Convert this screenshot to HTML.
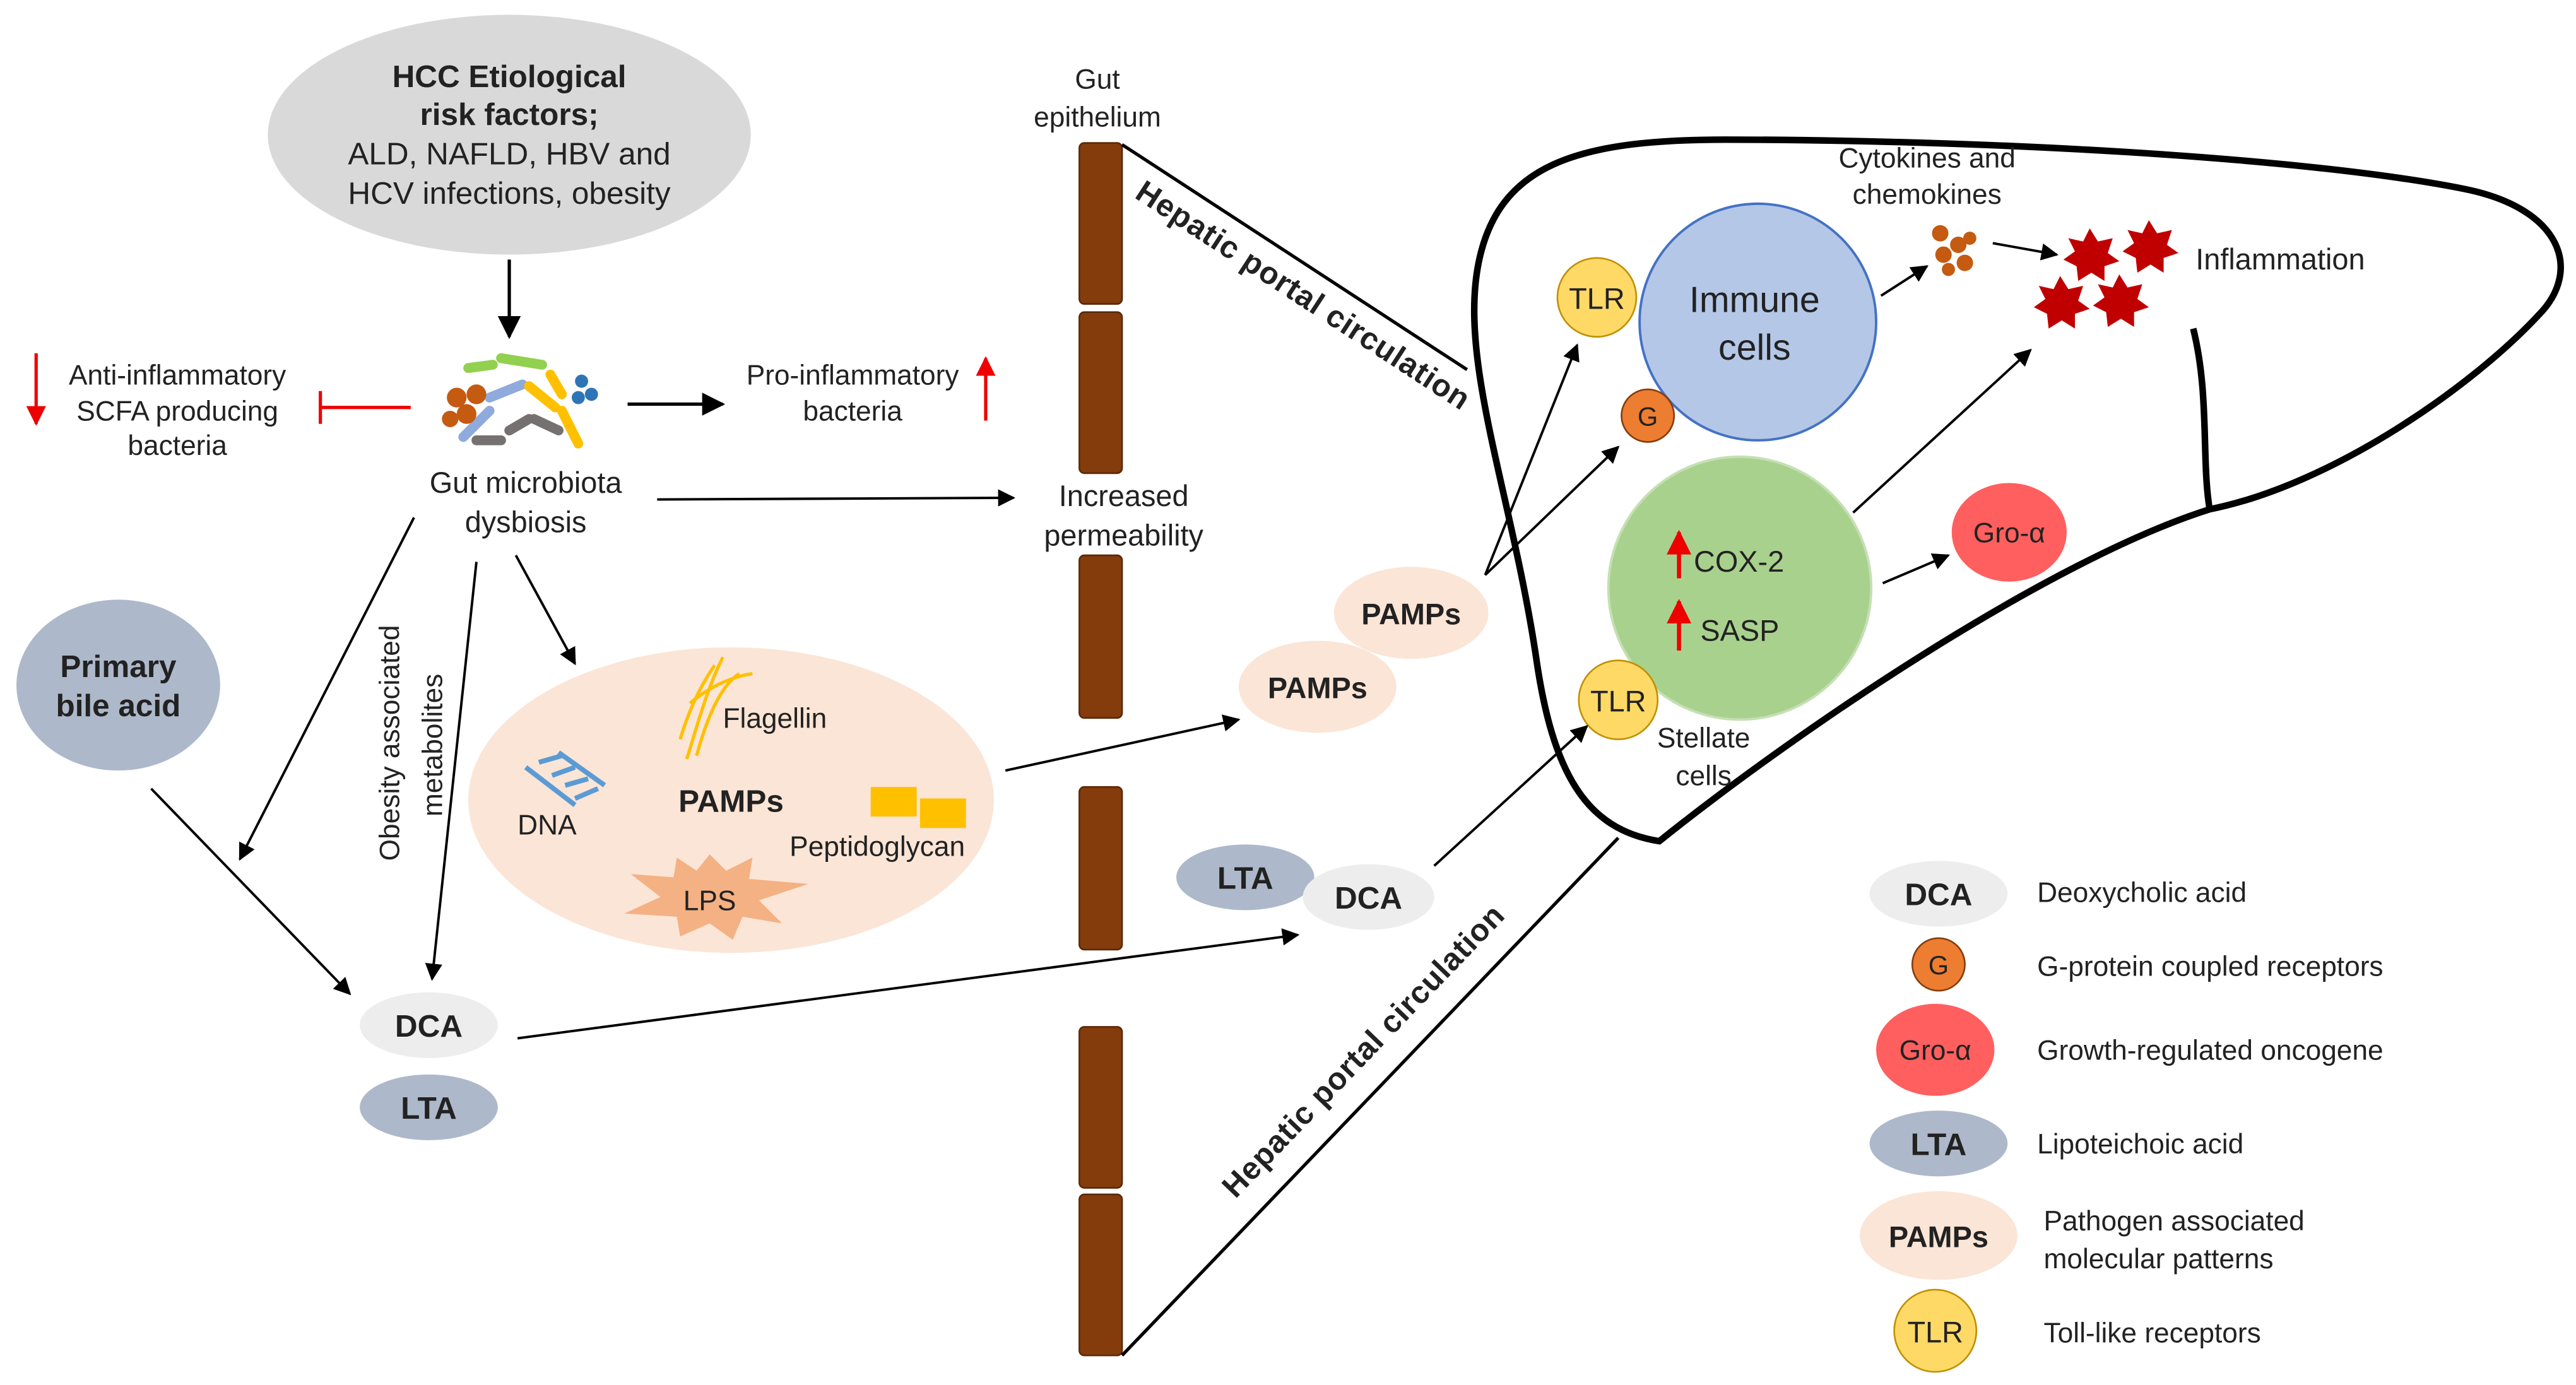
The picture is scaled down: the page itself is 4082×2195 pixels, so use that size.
<!DOCTYPE html>
<html><head><meta charset="utf-8"><style>
html,body{margin:0;padding:0;background:#fff;}
svg{display:block;}
text{font-family:"Liberation Sans",Arial,sans-serif;fill:#222;}
</style></head><body>
<svg width="4082" height="2195" viewBox="0 0 1568 843" preserveAspectRatio="none" xmlns="http://www.w3.org/2000/svg">
<defs>
<marker id="a" viewBox="0 0 10 10" refX="9" refY="5" markerWidth="7" markerHeight="7" orient="auto"><path d="M0,0 L10,5 L0,10 z" fill="#000"/></marker>
<marker id="r" viewBox="0 0 10 10" refX="9" refY="5" markerWidth="6" markerHeight="6" orient="auto"><path d="M0,0 L10,5 L0,10 z" fill="#e00"/></marker>
</defs>
<rect width="1568" height="843" fill="#fff"/>

<ellipse cx="310" cy="82" rx="147" ry="73" fill="#d9d9d9"/>
<g font-size="19" text-anchor="middle">
<text x="310" y="53" font-weight="bold">HCC Etiological</text>
<text x="310" y="76" font-weight="bold">risk factors;</text>
<text x="310" y="100">ALD, NAFLD, HBV and</text>
<text x="310" y="124">HCV infections, obesity</text>
</g>
<line x1="310" y1="158" x2="310" y2="205" stroke="#000" stroke-width="2" marker-end="url(#a)"/>

<g stroke-linecap="round" stroke-width="6">
<line x1="285" y1="224" x2="300" y2="222" stroke="#92d050"/>
<line x1="305" y1="218" x2="330" y2="222" stroke="#92d050"/>
<line x1="298" y1="242" x2="318" y2="234" stroke="#8faadc"/>
<line x1="282" y1="266" x2="298" y2="250" stroke="#8faadc"/>
<line x1="290" y1="268" x2="305" y2="268" stroke="#767171"/>
<line x1="310" y1="262" x2="322" y2="255" stroke="#767171"/>
<line x1="325" y1="255" x2="340" y2="262" stroke="#767171"/>
<line x1="322" y1="235" x2="338" y2="248" stroke="#ffc000"/>
<line x1="342" y1="250" x2="352" y2="270" stroke="#ffc000"/>
<line x1="335" y1="228" x2="342" y2="240" stroke="#ffc000"/>
</g>
<g fill="#c55a11"><circle cx="278" cy="242" r="6"/><circle cx="290" cy="240" r="6"/><circle cx="284" cy="252" r="6"/><circle cx="274" cy="255" r="5"/></g>
<g fill="#2e75b6"><circle cx="354" cy="232" r="4"/><circle cx="360" cy="240" r="4"/><circle cx="352" cy="242" r="4"/></g>
<g font-size="18" text-anchor="middle"><text x="320" y="300">Gut microbiota</text><text x="320" y="324">dysbiosis</text></g>

<line x1="22" y1="215" x2="22" y2="258" stroke="#e00" stroke-width="2" marker-end="url(#r)"/>
<g font-size="17" text-anchor="middle"><text x="108" y="234">Anti-inflammatory</text><text x="108" y="256">SCFA producing</text><text x="108" y="277">bacteria</text></g>
<line x1="250" y1="248" x2="195" y2="248" stroke="#e00" stroke-width="2"/>
<line x1="195" y1="238" x2="195" y2="258" stroke="#e00" stroke-width="2"/>

<line x1="382" y1="246" x2="440" y2="246" stroke="#000" stroke-width="2" marker-end="url(#a)"/>
<g font-size="17" text-anchor="middle"><text x="519" y="234">Pro-inflammatory</text><text x="519" y="256">bacteria</text></g>
<line x1="600" y1="256" x2="600" y2="218" stroke="#e00" stroke-width="2" marker-end="url(#r)"/>

<line x1="400" y1="304" x2="617" y2="303" stroke="#000" stroke-width="1.5" marker-end="url(#a)"/>
<g font-size="18" text-anchor="middle"><text x="684" y="308">Increased</text><text x="684" y="332">permeability</text>
<text x="668" y="54" font-size="17">Gut</text><text x="668" y="77" font-size="17">epithelium</text></g>

<g fill="#843c0c" stroke="#5a2808" stroke-width="1">
<rect x="657" y="87" width="26" height="98" rx="3"/>
<rect x="657" y="190" width="26" height="98" rx="3"/>
<rect x="657" y="338" width="26" height="99" rx="3"/>
<rect x="657" y="479" width="26" height="99" rx="3"/>
<rect x="657" y="625" width="26" height="98" rx="3"/>
<rect x="657" y="727" width="26" height="98" rx="3"/>
</g>

<line x1="683" y1="88" x2="893" y2="225" stroke="#000" stroke-width="2"/>
<line x1="683" y1="825" x2="985" y2="510" stroke="#000" stroke-width="2"/>
<text x="690" y="120" font-size="19" font-weight="bold" letter-spacing="0.4" transform="rotate(33.1 690 120)">Hepatic portal circulation</text>
<text x="752" y="730" font-size="19" font-weight="bold" letter-spacing="0.4" transform="rotate(-46.2 752 730)">Hepatic portal circulation</text>

<path d="M1010 512 C965 505 945 470 935 400 C920 300 888 220 900 160 C912 100 960 85 1050 85 C1200 85 1400 95 1500 115 C1560 127 1572 165 1545 192 C1505 235 1420 295 1345 310 C1250 340 1100 440 1010 512 Z" fill="none" stroke="#000" stroke-width="4"/>
<path d="M1335 200 C1345 240 1340 280 1345 310" fill="none" stroke="#000" stroke-width="4"/>

<circle cx="1070" cy="196" r="72" fill="#b4c7e7" stroke="#4472c4" stroke-width="1.5"/>
<g font-size="22" text-anchor="middle"><text x="1068" y="190">Immune</text><text x="1068" y="219">cells</text></g>
<circle cx="972" cy="181" r="24" fill="#ffd966" stroke="#bf9000" stroke-width="1"/>
<text x="972" y="188" font-size="18" text-anchor="middle">TLR</text>
<circle cx="1003" cy="253" r="16" fill="#ed7d31" stroke="#843c0c" stroke-width="1"/>
<text x="1003" y="259" font-size="16" text-anchor="middle">G</text>

<circle cx="1059" cy="358" r="80" fill="#a9d18e" stroke="#c5e0b4" stroke-width="1.5"/>
<g font-size="18"><text x="1031" y="348">COX-2</text><text x="1035" y="390">SASP</text></g>
<line x1="1022" y1="352" x2="1022" y2="324" stroke="#e00" stroke-width="2.5" marker-end="url(#r)"/>
<line x1="1022" y1="396" x2="1022" y2="366" stroke="#e00" stroke-width="2.5" marker-end="url(#r)"/>
<circle cx="985" cy="426" r="24" fill="#ffd966" stroke="#bf9000" stroke-width="1"/>
<text x="985" y="433" font-size="18" text-anchor="middle">TLR</text>
<g font-size="17" text-anchor="middle"><text x="1037" y="455">Stellate</text><text x="1037" y="478">cells</text></g>

<ellipse cx="1223" cy="324" rx="35" ry="30" fill="#ff5f5f"/>
<text x="1223" y="330" font-size="17" text-anchor="middle">Gro-α</text>

<g font-size="17" text-anchor="middle"><text x="1173" y="102">Cytokines and</text><text x="1173" y="124">chemokines</text></g>
<g fill="#c55a11"><circle cx="1181" cy="142" r="5"/><circle cx="1192" cy="149" r="5"/><circle cx="1183" cy="155" r="5"/><circle cx="1196" cy="160" r="5"/><circle cx="1186" cy="164" r="4"/><circle cx="1199" cy="145" r="4"/></g>
<g fill="#c00000">
<polygon id="st" points="1272,139 1277,147 1286,145 1283,154 1290,159 1281,162 1281,171 1273,166 1265,171 1264,162 1256,158 1263,153 1259,145 1268,147"/>
<use href="#st" transform="translate(36,-5)"/>
<use href="#st" transform="translate(-18,29)"/>
<use href="#st" transform="translate(18,28)"/>
</g>
<text x="1388" y="164" font-size="18" text-anchor="middle">Inflammation</text>

<g stroke="#000" stroke-width="1.5" fill="none" marker-end="url(#a)">
<line x1="1145" y1="180" x2="1173" y2="162"/>
<line x1="1213" y1="148" x2="1252" y2="155"/>
<line x1="1128" y1="312" x2="1236" y2="213"/>
<line x1="1146" y1="355" x2="1186" y2="338"/>
<line x1="904" y1="350" x2="960" y2="210"/>
<line x1="904" y1="350" x2="985" y2="272"/>
<line x1="873" y1="527" x2="966" y2="442"/>
<line x1="612" y1="469" x2="754" y2="438"/>
<line x1="314" y1="338" x2="350" y2="404"/>
<line x1="290" y1="342" x2="263" y2="596"/>
<line x1="252" y1="315" x2="146" y2="523"/>
<line x1="92" y1="480" x2="213" y2="605"/>
<line x1="315" y1="632" x2="790" y2="569"/>
</g>

<ellipse cx="859" cy="373" rx="47" ry="28" fill="#fbe5d6"/>
<text x="859" y="380" font-size="18" font-weight="bold" text-anchor="middle">PAMPs</text>
<ellipse cx="802" cy="418" rx="48" ry="28" fill="#fbe5d6"/>
<text x="802" y="425" font-size="18" font-weight="bold" text-anchor="middle">PAMPs</text>
<ellipse cx="758" cy="534" rx="42" ry="20" fill="#adb9ca"/>
<text x="758" y="541" font-size="19" font-weight="bold" text-anchor="middle">LTA</text>
<ellipse cx="833" cy="546" rx="40" ry="20" fill="#ededed"/>
<text x="833" y="553" font-size="19" font-weight="bold" text-anchor="middle">DCA</text>

<ellipse cx="445" cy="487" rx="160" ry="93" fill="#fbe5d6"/>
<g stroke="#ffc000" stroke-width="2" fill="none">
<path d="M418 462 C425 440 430 420 440 400"/><path d="M424 460 C430 438 438 418 450 410"/><path d="M414 450 C420 430 428 415 435 405"/><path d="M420 428 C432 418 445 412 458 410"/>
</g>
<text x="440" y="443" font-size="17">Flagellin</text>
<text x="445" y="494" font-size="19" font-weight="bold" text-anchor="middle">PAMPs</text>
<g stroke="#5b9bd5" stroke-width="3"><line x1="320" y1="467" x2="350" y2="490"/><line x1="340" y1="458" x2="368" y2="478"/><line x1="328" y1="464" x2="342" y2="460"/><line x1="336" y1="472" x2="350" y2="467"/><line x1="344" y1="478" x2="358" y2="474"/><line x1="350" y1="486" x2="364" y2="480"/></g>
<text x="333" y="508" font-size="17" text-anchor="middle">DNA</text>
<rect x="530" y="479" width="28" height="18" fill="#ffc000"/><rect x="560" y="486" width="28" height="18" fill="#ffc000"/>
<text x="534" y="521" font-size="17" text-anchor="middle">Peptidoglycan</text>
<polygon points="432,520 442,530 458,522 456,535 492,538 462,548 476,562 452,558 446,572 432,562 414,570 412,558 380,556 402,546 384,532 410,534 412,522 424,530" fill="#f4b183"/>
<text x="432" y="554" font-size="17" text-anchor="middle">LPS</text>

<text x="0" y="0" font-size="17" transform="translate(243 524) rotate(-90)">Obesity associated</text>
<text x="0" y="0" font-size="17" transform="translate(269 497) rotate(-90)">metabolites</text>

<ellipse cx="72" cy="417" rx="62" ry="52" fill="#adb9ca"/>
<g font-size="19" font-weight="bold" text-anchor="middle"><text x="72" y="412">Primary</text><text x="72" y="436">bile acid</text></g>

<ellipse cx="261" cy="624" rx="42" ry="20" fill="#ededed"/>
<text x="261" y="631" font-size="19" font-weight="bold" text-anchor="middle">DCA</text>
<ellipse cx="261" cy="674" rx="42" ry="20" fill="#adb9ca"/>
<text x="261" y="681" font-size="19" font-weight="bold" text-anchor="middle">LTA</text>

<ellipse cx="1180" cy="544" rx="42" ry="20" fill="#ededed"/>
<text x="1180" y="551" font-size="19" font-weight="bold" text-anchor="middle">DCA</text>
<circle cx="1180" cy="587" r="16" fill="#ed7d31" stroke="#843c0c" stroke-width="1"/>
<text x="1180" y="593" font-size="16" text-anchor="middle">G</text>
<ellipse cx="1178" cy="639" rx="36" ry="28" fill="#ff5f5f"/>
<text x="1178" y="645" font-size="17" text-anchor="middle">Gro-α</text>
<ellipse cx="1180" cy="696" rx="42" ry="20" fill="#adb9ca"/>
<text x="1180" y="703" font-size="19" font-weight="bold" text-anchor="middle">LTA</text>
<ellipse cx="1180" cy="752" rx="48" ry="27" fill="#fbe5d6"/>
<text x="1180" y="759" font-size="18" font-weight="bold" text-anchor="middle">PAMPs</text>
<circle cx="1178" cy="810" r="25" fill="#ffd966" stroke="#bf9000" stroke-width="1"/>
<text x="1178" y="817" font-size="18" text-anchor="middle">TLR</text>
<g font-size="17">
<text x="1240" y="549">Deoxycholic acid</text>
<text x="1240" y="594">G-protein coupled receptors</text>
<text x="1240" y="645">Growth-regulated oncogene</text>
<text x="1240" y="702">Lipoteichoic acid</text>
<text x="1244" y="749">Pathogen associated</text>
<text x="1244" y="772">molecular patterns</text>
<text x="1244" y="817">Toll-like receptors</text>
</g>
</svg>
</body></html>
